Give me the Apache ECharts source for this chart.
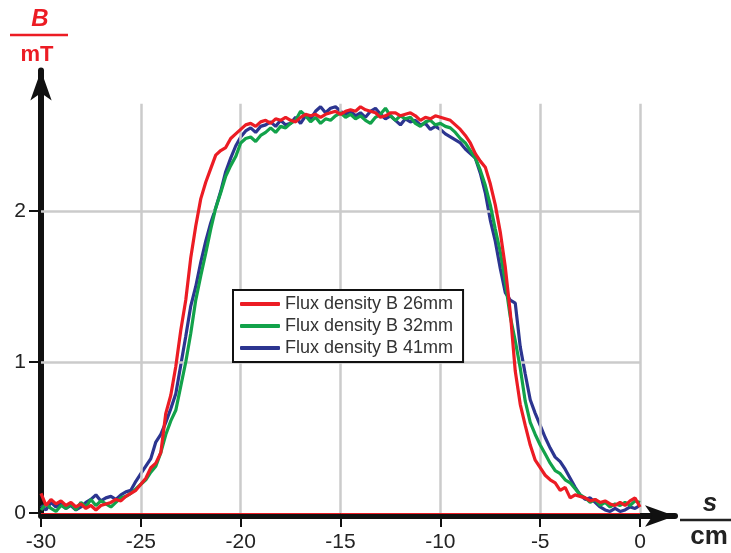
<!DOCTYPE html>
<html><head><meta charset="utf-8">
<script src="https://cdn.jsdelivr.net/npm/echarts@6/dist/echarts.min.js"></script>
<style>html,body{margin:0;padding:0;background:#fff}#c{width:731px;height:553px}</style>
</head><body><div id="c"></div>
<script>
// position s in cm
const xs = [
  -30,-29.75,-29.5,-29.25,-29,-28.75,-28.5,-28.25,
  -28,-27.75,-27.5,-27.25,-27,-26.75,-26.5,-26.25,
  -26,-25.75,-25.5,-25.25,-25,-24.75,-24.5,-24.25,
  -24,-23.75,-23.5,-23.25,-23,-22.75,-22.5,-22.25,
  -22,-21.75,-21.5,-21.25,-21,-20.75,-20.5,-20.25,
  -20,-19.75,-19.5,-19.25,-19,-18.75,-18.5,-18.25,
  -18,-17.75,-17.5,-17.25,-17,-16.75,-16.5,-16.25,
  -16,-15.75,-15.5,-15.25,-15,-14.75,-14.5,-14.25,
  -14,-13.75,-13.5,-13.25,-13,-12.75,-12.5,-12.25,
  -12,-11.75,-11.5,-11.25,-11,-10.75,-10.5,-10.25,
  -10,-9.75,-9.5,-9.25,-9,-8.75,-8.5,-8.25,
  -8,-7.75,-7.5,-7.25,-7,-6.75,-6.5,-6.25,
  -6,-5.75,-5.5,-5.25,-5,-4.75,-4.5,-4.25,
  -4,-3.75,-3.5,-3.25,-3,-2.75,-2.5,-2.25,
  -2,-1.75,-1.5,-1.25,-1,-0.75,-0.5,-0.25,
  0
];
// Flux density B 26mm (mT)
const b26 = [
  0.13,0.05,0.09,0.06,0.08,0.05,0.07,0.04,
  0.06,0.03,0.05,0.02,0.05,0.06,0.07,0.09,
  0.08,0.11,0.13,0.15,0.19,0.23,0.30,0.33,
  0.40,0.66,0.78,0.97,1.21,1.41,1.69,1.90,
  2.08,2.19,2.28,2.37,2.40,2.42,2.48,2.51,
  2.54,2.57,2.58,2.56,2.59,2.60,2.58,2.61,
  2.60,2.62,2.60,2.59,2.62,2.64,2.63,2.64,
  2.62,2.64,2.65,2.66,2.64,2.66,2.67,2.66,
  2.69,2.67,2.66,2.65,2.62,2.63,2.65,2.65,
  2.63,2.64,2.65,2.63,2.60,2.62,2.61,2.63,
  2.62,2.61,2.60,2.57,2.54,2.50,2.45,2.38,
  2.33,2.29,2.18,2.04,1.86,1.63,1.33,0.94,
  0.72,0.58,0.45,0.35,0.30,0.25,0.22,0.20,
  0.15,0.17,0.10,0.12,0.11,0.10,0.08,0.09,
  0.07,0.08,0.06,0.05,0.07,0.05,0.08,0.10,
  0.04
];
// Flux density B 32mm (mT)
const b32 = [
  0.02,0.06,0.03,0.01,0.05,0.03,0.06,0.02,
  0.07,0.04,0.09,0.05,0.08,0.06,0.04,0.07,
  0.10,0.11,0.13,0.16,0.19,0.22,0.27,0.31,
  0.40,0.52,0.61,0.68,0.84,1.00,1.19,1.41,
  1.57,1.72,1.88,2.02,2.12,2.23,2.30,2.36,
  2.45,2.48,2.49,2.46,2.50,2.52,2.55,2.52,
  2.56,2.55,2.58,2.60,2.66,2.63,2.59,2.62,
  2.58,2.61,2.60,2.63,2.65,2.62,2.64,2.61,
  2.63,2.60,2.58,2.62,2.64,2.68,2.63,2.60,
  2.63,2.61,2.62,2.58,2.56,2.59,2.60,2.57,
  2.58,2.56,2.55,2.52,2.48,2.45,2.40,2.35,
  2.27,2.17,2.04,1.88,1.73,1.53,1.30,1.14,
  0.96,0.74,0.60,0.52,0.45,0.39,0.33,0.28,
  0.26,0.22,0.20,0.16,0.12,0.10,0.07,0.09,
  0.05,0.07,0.04,0.06,0.05,0.07,0.05,0.08,
  0.07
];
// Flux density B 41mm (mT)
const b41 = [
  0.05,0.02,0.07,0.04,0.06,0.03,0.05,0.02,
  0.04,0.07,0.09,0.12,0.08,0.10,0.11,0.09,
  0.12,0.14,0.15,0.21,0.26,0.31,0.36,0.47,
  0.52,0.60,0.69,0.79,0.98,1.17,1.37,1.50,
  1.66,1.80,1.92,2.02,2.13,2.26,2.35,2.43,
  2.49,2.53,2.55,2.52,2.56,2.57,2.59,2.56,
  2.60,2.57,2.58,2.62,2.58,2.63,2.61,2.66,
  2.69,2.65,2.68,2.69,2.66,2.64,2.66,2.63,
  2.65,2.62,2.66,2.68,2.64,2.61,2.63,2.60,
  2.57,2.61,2.59,2.60,2.57,2.58,2.54,2.56,
  2.54,2.51,2.49,2.47,2.45,2.41,2.38,2.35,
  2.25,2.12,1.94,1.80,1.62,1.46,1.41,1.39,
  1.10,0.92,0.75,0.66,0.58,0.50,0.43,0.37,
  0.34,0.29,0.23,0.17,0.12,0.09,0.10,0.07,
  0.04,0.02,0.01,0.03,0.01,0.02,0.04,0.03,
  0.05
];
const seriesNames = ['Flux density B 26mm', 'Flux density B 32mm', 'Flux density B 41mm'];
const xTickLabels = [-30, -25, -20, -15, -10, -5, 0];
const yTickLabels = [0, 1, 2];
const vGridValues = [-25, -20, -15, -10, -5, 0];
const hGridValues = [1, 2];
const gridTop = 2.71;

const RED = '#ec1c24', GREEN = '#12a24a', BLUE = '#2c3590';
const FONT = "'Liberation Sans', Arial, Helvetica, sans-serif";

function pairs(vals) { return xs.map((x, i) => [x, vals[i]]); }

const gridLines = [];
vGridValues.forEach(v => gridLines.push([{coord: [v, 0]}, {coord: [v, gridTop]}]));
hGridValues.forEach(v => gridLines.push([{coord: [xTickLabels[0], v]}, {coord: [xTickLabels[xTickLabels.length - 1], v]}]));

const chart = echarts.init(document.getElementById('c'), null, {renderer: 'canvas'});
chart.setOption({
  animation: false,
  backgroundColor: '#fff',
  grid: {left: 41, right: 56, top: 70.5, bottom: 40, containLabel: false, outerBoundsMode: 'none'},
  xAxis: {
    type: 'value', min: -30, max: 1.75, interval: 5, offset: 3,
    axisLine: {show: true, onZero: false, symbol: ['none', 'arrow'], symbolSize: [16, 30],
      lineStyle: {color: '#111', width: 6}},
    axisTick: {show: true, length: 11, customValues: xTickLabels, lineStyle: {color: '#111', width: 2}},
    axisLabel: {customValues: xTickLabels, fontSize: 21, color: '#222', margin: 16, fontFamily: FONT, hideOverlap: false},
    splitLine: {show: false}
  },
  yAxis: {
    type: 'value', min: 0, max: 2.93, interval: 1,
    axisLine: {show: true, onZero: false, symbol: ['none', 'arrow'], symbolSize: [16, 30],
      lineStyle: {color: '#111', width: 6}},
    axisTick: {show: true, length: 12, customValues: yTickLabels, lineStyle: {color: '#111', width: 2}},
    axisLabel: {customValues: yTickLabels, fontSize: 21, color: '#222', margin: 15, fontFamily: FONT, hideOverlap: false},
    splitLine: {show: false}
  },
  legend: {
    data: seriesNames, orient: 'vertical', left: 233, top: 290,
    itemWidth: 40, itemHeight: 4, icon: 'roundRect', itemGap: 4,
    padding: [5, 10, 5, 7], backgroundColor: '#fff', borderColor: '#111', borderWidth: 2,
    textStyle: {fontSize: 18, color: '#333', fontFamily: FONT}, z: 10
  },
  series: [
    {
      name: 'grid', type: 'line', data: [], z: 1, silent: true,
      markLine: {silent: true, symbol: ['none', 'none'], label: {show: false},
        lineStyle: {color: '#cbcbcb', width: 2.5, type: 'solid'}, data: gridLines, animation: false}
    },
    {
      name: 'zero', type: 'line', data: [], z: 3, silent: true,
      markLine: {silent: true, symbol: ['none', 'none'], label: {show: false},
        lineStyle: {color: RED, width: 1, type: 'solid'},
        data: [[{coord: [xTickLabels[0], 0]}, {coord: [xTickLabels[xTickLabels.length - 1], 0]}]], animation: false}
    },
    {name: seriesNames[2], type: 'line', data: pairs(b41), showSymbol: false, symbol: 'none', z: 4,
      color: BLUE, lineStyle: {color: BLUE, width: 3.2}},
    {name: seriesNames[1], type: 'line', data: pairs(b32), showSymbol: false, symbol: 'none', z: 5,
      color: GREEN, lineStyle: {color: GREEN, width: 3.2}},
    {name: seriesNames[0], type: 'line', data: pairs(b26), showSymbol: false, symbol: 'none', z: 6,
      color: RED, lineStyle: {color: RED, width: 3.2}}
  ],
  graphic: [
    {type: 'text', x: 40, y: 19, style: {text: 'B', font: "italic bold 24px " + FONT, fill: RED, align: 'center', verticalAlign: 'middle'}},
    {type: 'line', shape: {x1: 10, y1: 35, x2: 68, y2: 35}, style: {stroke: RED, lineWidth: 2.5}},
    {type: 'text', x: 37, y: 55, style: {text: 'mT', font: "bold 22px " + FONT, fill: RED, align: 'center', verticalAlign: 'middle'}},
    {type: 'text', x: 710, y: 504, style: {text: 's', font: "italic bold 26px " + FONT, fill: '#222', align: 'center', verticalAlign: 'middle'}},
    {type: 'line', shape: {x1: 680, y1: 520, x2: 731, y2: 520}, style: {stroke: '#222', lineWidth: 2.5}},
    {type: 'text', x: 709, y: 537, style: {text: 'cm', font: "bold 26px " + FONT, fill: '#222', align: 'center', verticalAlign: 'middle'}}
  ]
});
</script>
</body></html>
